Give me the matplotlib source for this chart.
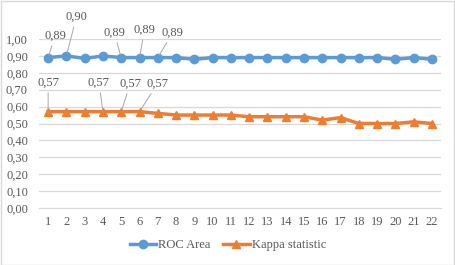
import matplotlib
matplotlib.use("Agg")
import matplotlib.pyplot as plt
from matplotlib.patches import Rectangle

categories = list(range(1, 23))
roc_area = [0.89, 0.90, 0.885, 0.90, 0.89, 0.89, 0.89, 0.89, 0.88, 0.89, 0.89,
            0.89, 0.89, 0.89, 0.89, 0.89, 0.89, 0.89, 0.89, 0.88, 0.89, 0.88]
kappa = [0.57, 0.57, 0.57, 0.57, 0.57, 0.57, 0.56, 0.55, 0.55, 0.55, 0.55,
         0.54, 0.54, 0.54, 0.54, 0.52, 0.535, 0.50, 0.50, 0.50, 0.51, 0.50]
y_ticks = [0.0, 0.1, 0.2, 0.3, 0.4, 0.5, 0.6, 0.7, 0.8, 0.9, 1.0]

# labeled points: (index, label, offset pixels dx, dy to text centre)
roc_labels = [(0, "0,89", 7, 22), (1, "0,90", 10, 39), (4, "0,89", -7, 25),
              (5, "0,89", 5, 28), (6, "0,89", 15, 25)]
kappa_labels = [(0, "0,57", 0, 29), (3, "0,57", -4, 29), (4, "0,57", 9, 28),
                (5, "0,57", 18, 28)]

BLUE = "#5B9BD5"
ORANGE = "#ED7D31"
GRID = "#D9D9D9"
TXT = "#595959"

plt.rcParams['font.family'] = ['Liberation Serif', 'DejaVu Serif']

fig = plt.figure(figsize=(4.55, 2.65), dpi=100)
W, H = 455, 265
ax = fig.add_axes([39 / W, 1 - 208 / H, (441 - 39) / W, (208 - 39) / H])

ax.plot(categories, roc_area, color=BLUE, lw=2.5, marker='o', ms=6,
        label="ROC Area", zorder=3)
ax.plot(categories, kappa, color=ORANGE, lw=2.5, marker='^', ms=6,
        label="Kappa statistic", zorder=3)

ax.set_xlim(0.5, 22.5)
ax.set_ylim(0, 1.0)
ax.set_yticks(y_ticks)
ax.set_yticklabels([f"{v:.2f}".replace('.', ',') for v in y_ticks])
ax.set_xticks(categories)
ax.set_xticklabels([str(c) for c in categories])
ax.grid(axis='y', color=GRID, lw=0.9)
ax.set_axisbelow(True)
for s in ax.spines.values():
    s.set_visible(False)
ax.spines['bottom'].set_visible(True)
ax.spines['bottom'].set_color(GRID)
ax.tick_params(length=0, labelsize=9, labelcolor=TXT, pad=6)
ax.tick_params(axis='y', pad=8)

for series, labels in ((roc_area, roc_labels), (kappa, kappa_labels)):
    for i, txt, dx, dy in labels:
        ax.annotate(txt, xy=(categories[i], series[i]), xytext=(dx, dy),
                    textcoords='offset pixels', ha='center', va='center',
                    fontsize=9, color=TXT,
                    arrowprops=dict(arrowstyle='-', color='#A6A6A6', lw=0.7,
                                    shrinkA=1, shrinkB=2))

fig.legend(loc='center', bbox_to_anchor=(228 / W, 1 - 245 / H), ncol=2,
           frameon=False, fontsize=9, handlelength=2.1, columnspacing=1.0,
           handletextpad=0.2, labelcolor=TXT)

fig.patches.append(Rectangle((0.5 / W, 0.5 / H), 1 - 1.5 / W, 1 - 1.5 / H,
                             transform=fig.transFigure, fill=False,
                             edgecolor=GRID, lw=1))

fig.savefig("out.png", dpi=100)
